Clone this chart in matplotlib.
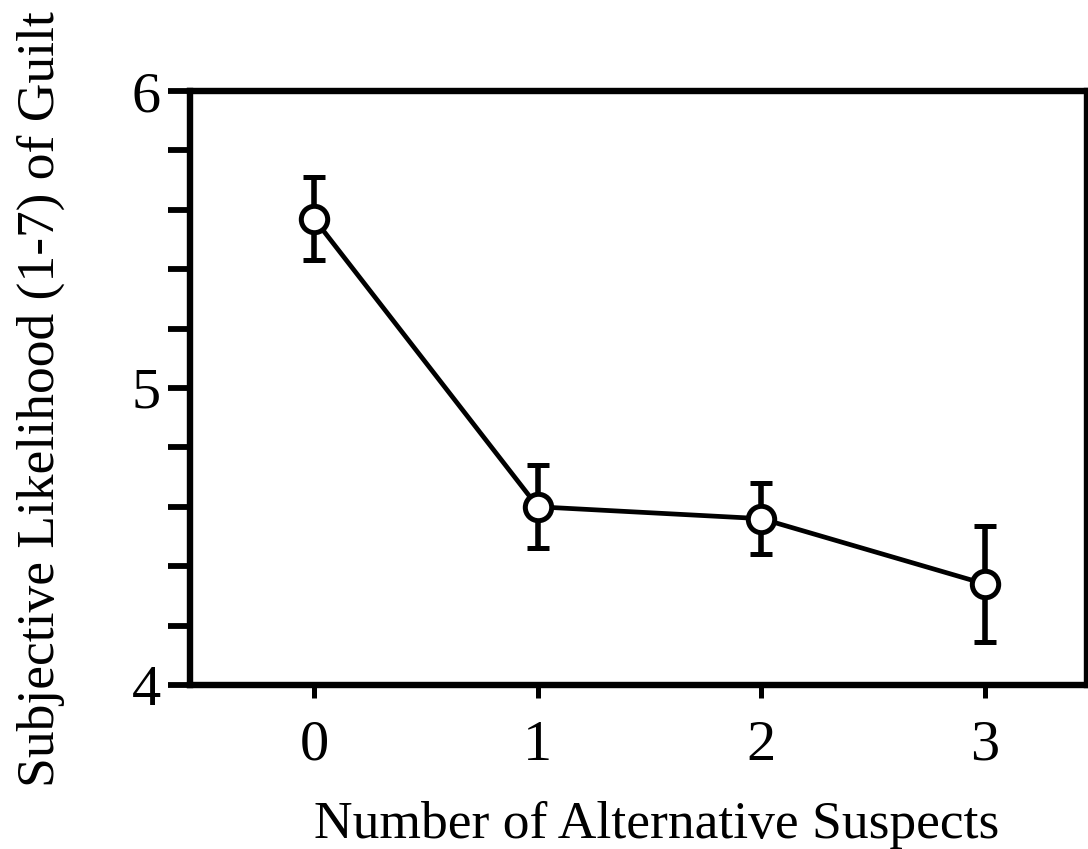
import matplotlib
matplotlib.use('Agg')
import matplotlib.pyplot as plt
from matplotlib.ticker import MultipleLocator

plt.rcParams['font.family'] = ['Liberation Serif', 'DejaVu Serif']

suspects = [0, 1, 2, 3]
likelihood = [5.57, 4.60, 4.56, 4.34]
err = [0.14, 0.14, 0.12, 0.195]

fig = plt.figure(figsize=(10.88, 8.49), dpi=100)
ax = fig.add_axes([0.1746, 0.1932, 0.8245, 0.6996])

ax.errorbar(suspects, likelihood, yerr=err, color='black', lw=3.4, elinewidth=4,
            capsize=8, capthick=4, marker='o', markersize=19, markerfacecolor='white',
            markeredgecolor='black', markeredgewidth=3.6, zorder=3)

ax.set_xlim(-0.555, 3.456)
ax.set_ylim(4, 6)
ax.set_xticks(suspects)
ax.set_yticks([4, 5, 6])
ax.yaxis.set_minor_locator(MultipleLocator(0.2))

for s in ax.spines.values():
    s.set_linewidth(4.6)

ax.tick_params(axis='y', which='both', direction='out', length=16, width=4.2,
               labelsize=42, pad=5)
ax.tick_params(axis='x', direction='out', length=9, width=3.6, labelsize=42, pad=16)

ax.set_xlabel('Number of Alternative Suspects', fontsize=38.5)
ax.set_ylabel('Subjective Likelihood (1-7) of Guilt', fontsize=38.5)
ax.xaxis.set_label_coords(0.52, -0.196)
ax.yaxis.set_label_coords(-0.139, 0.481)

fig.savefig('out.png', dpi=100)
